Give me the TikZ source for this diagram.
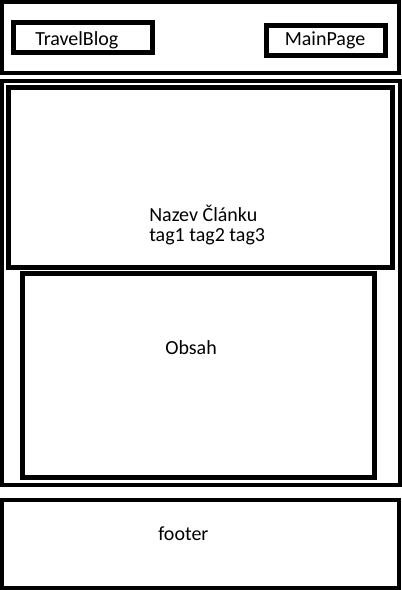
\documentclass[tikz,border=0pt]{standalone}
\usepackage{fontspec}
\setmainfont{Carlito}
\begin{document}
\begin{tikzpicture}[x=0.75pt,y=-0.75pt,
  frame/.style={draw=black,line width=3pt,inner sep=0pt,outer sep=0pt,anchor=north west},
  thick frame/.style={frame,line width=3.75pt},
  label text/.style={anchor=base west,inner sep=0pt,font=\fontsize{15}{18}\selectfont}]
\useasboundingbox (0,0) rectangle (401,590);
% header
\node[frame,minimum width=396.5*0.75pt,minimum height=71*0.75pt] (header) at (2,2) {};
\node[thick frame,minimum width=139*0.75pt,minimum height=30*0.75pt] (blogbox) at (13.5,22.5) {};
\node[thick frame,minimum width=119*0.75pt,minimum height=30*0.75pt] (mainbox) at (266.5,25.5) {};
\node[label text] (blogtext) at (35,45.7) {TravelBlog};
\node[label text] (maintext) at (284.5,45.2) {MainPage};
% main area
\node[frame,minimum width=398*0.75pt,minimum height=404*0.75pt] (main) at (1.5,81) {};
\node[thick frame,minimum width=384*0.75pt,minimum height=180.5*0.75pt] (article) at (8,87) {};
\node[label text] (title) at (149,221) {Nazev Článku};
\node[label text] (tags) at (149,241.7) {tag1 tag2 tag3};
\node[thick frame,minimum width=352.5*0.75pt,minimum height=203.5*0.75pt] (content) at (22,273.5) {};
\node[label text] (obsah) at (165,354) {Obsah};
% footer
\node[frame,minimum width=397*0.75pt,minimum height=88*0.75pt] (footer) at (2,500) {};
\node[label text] (footertext) at (158,540) {footer};
\end{tikzpicture}
\end{document}
